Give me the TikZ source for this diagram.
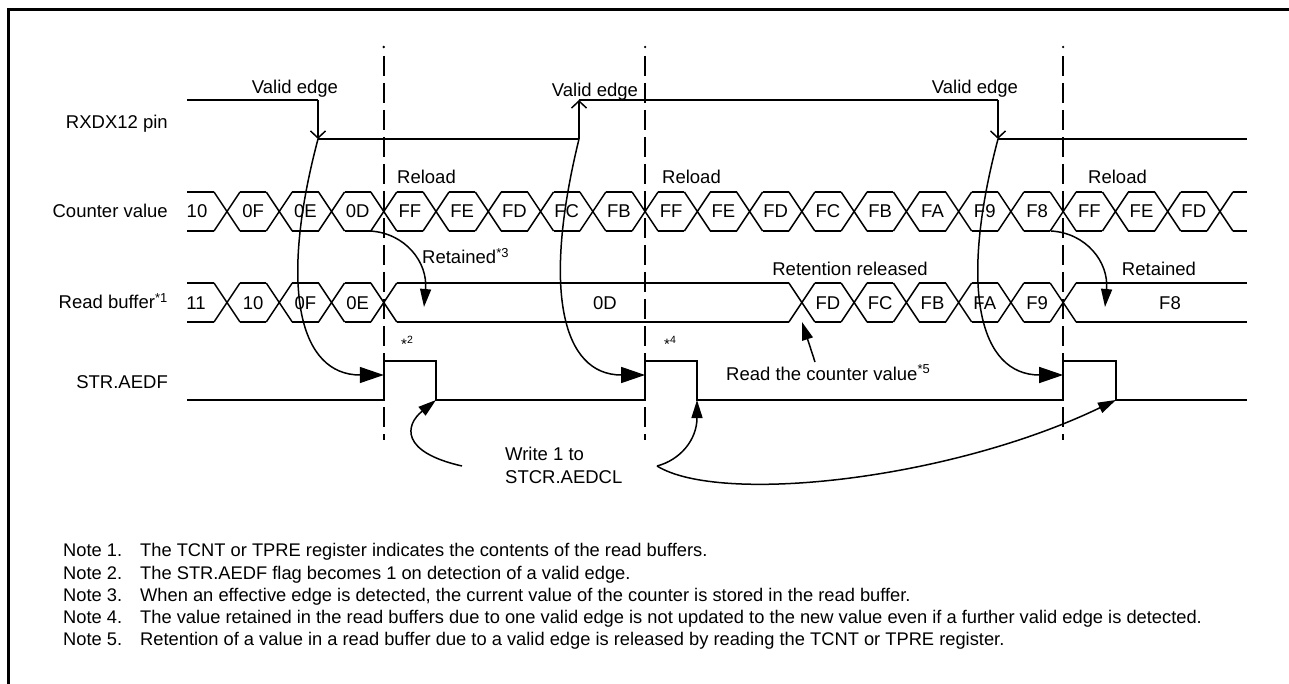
\documentclass[tikz,border=0pt]{standalone}
\usepackage{fontspec}
\setmainfont{Liberation Sans}
\usetikzlibrary{arrows.meta}
\begin{document}
\begin{tikzpicture}[x=1pt,y=-1pt,
  sig/.style={line width=1.5pt},
  lbl/.style={font=\fontsize{18.5}{22}\selectfont, inner sep=0pt},
  notetext/.style={font=\fontsize{18.3}{22}\selectfont, inner sep=0pt, anchor=base west},
  smallsup/.style={font=\fontsize{15}{17}\selectfont, inner sep=0pt, anchor=base west},
  vline/.style={line width=2.4pt, dash pattern=on 20pt off 7pt},
  barbtip/.style={-{Straight Barb[length=7pt,width=15pt]}},
  bigtip/.style={-{Triangle[length=24pt,width=16pt]}},
  midtip/.style={-{Triangle[length=18pt,width=11pt]}}
]
\useasboundingbox (0,0) rectangle (1289,684);
% frame
\draw[line width=3pt] (8.5,684) -- (8.5,9.5) -- (1289,9.5);

% dashed guide lines
\foreach \xx/\nm in {383.78/d1,645.08/d2,1063.16/d3} {
  \fill (\xx,47) circle (1.3pt);
  \draw[vline] (\xx,56) coordinate (\nm top) -- (\xx,440) coordinate (\nm bot);
}

% left labels
\node[lbl,anchor=base east] (lpin) at (168,128.3) {RXDX12 pin};
\node[lbl,anchor=base east] (lcnt) at (168,217.3) {Counter value};
\node[lbl,anchor=base east] (lbuf) at (168,308.3) {Read buffer\textsuperscript{*1}};
\node[lbl,anchor=base east] (lstr) at (168,388) {STR.AEDF};

% RXDX12 pin waveform
\coordinate (p0) at (187,100);
\coordinate (f1t) at (318,100); \coordinate (f1b) at (318,139);
\coordinate (r1b) at (579,139); \coordinate (r1t) at (579,100);
\coordinate (f2t) at (998,100); \coordinate (f2b) at (998,139);
\coordinate (pend) at (1247,139);
\draw[sig] (p0) -- (f1t);
\draw[sig,barbtip] (f1t) -- (f1b);
\draw[sig] (f1b) -- (r1b);
\draw[sig,barbtip] (r1b) -- (r1t);
\draw[sig] (r1t) -- (f2t);
\draw[sig,barbtip] (f2t) -- (f2b);
\draw[sig] (f2b) -- (pend);

\node[lbl,anchor=base] (ve1) at (295,93.3) {Valid edge};
\node[lbl,anchor=base] (ve2) at (595,96.5) {Valid edge};
\node[lbl,anchor=base] (ve3) at (975,93.3) {Valid edge};

% Counter value bus
\foreach \i in {0,...,19} {
  \pgfmathsetmacro\xa{227+52.26*\i}
  \draw[sig] (\xa-13,192) -- (\xa+13,231) (\xa-13,231) -- (\xa+13,192);
}
\foreach \i in {0,...,18} {
  \pgfmathsetmacro\xa{227+52.26*\i+13}
  \pgfmathsetmacro\xb{227+52.26*(\i+1)-13}
  \draw[sig] (\xa,192) -- (\xb,192) (\xa,231) -- (\xb,231);
}
\draw[sig] (187,192) -- (214,192) (187,231) -- (214,231);
\draw[sig] (1232.94,192) -- (1247,192) (1232.94,231) -- (1247,231);
\node[lbl,anchor=base] (cv0) at (197,218) {10};
\foreach \t [count=\k] in {0F,0E,0D,FF,FE,FD,FC,FB,FF,FE,FD,FC,FB,FA,F9,F8,FF,FE,FD} {
  \pgfmathsetmacro\xa{227+52.26*(\k-0.5)}
  \node[lbl,anchor=base] (cv\k) at (\xa,218) {\t};
}
\node[lbl,anchor=base west] (rl1) at (397,184) {Reload};
\node[lbl,anchor=base west] (rl2) at (662,184) {Reload};
\node[lbl,anchor=base west] (rl3) at (1088,184) {Reload};

% Read buffer bus
\foreach \i in {0,1,2,3,11,12,13,14,15,16} {
  \pgfmathsetmacro\xa{227+52.26*\i}
  \draw[sig] (\xa-13,283) -- (\xa+13,322) (\xa-13,322) -- (\xa+13,283);
}
\foreach \i in {0,1,2,11,12,13,14,15} {
  \pgfmathsetmacro\xa{227+52.26*\i+13}
  \pgfmathsetmacro\xb{227+52.26*(\i+1)-13}
  \draw[sig] (\xa,283) -- (\xb,283) (\xa,322) -- (\xb,322);
}
\draw[sig] (187,283) -- (214,283) (187,322) -- (214,322);
\draw[sig] (396.78,283) -- (788.86,283) (396.78,322) -- (788.86,322);
\draw[sig] (1076.16,283) -- (1247,283) (1076.16,322) -- (1247,322);
\node[lbl,anchor=base] (rb0) at (196,309) {11};
\foreach \t/\k in {10/1,0F/2,0E/3,FD/12,FC/13,FB/14,FA/15,F9/16} {
  \pgfmathsetmacro\xa{227+52.26*(\k-0.5)}
  \node[lbl,anchor=base] (rb\k) at (\xa,309) {\t};
}
\node[lbl,anchor=base] (rbod) at (605,309) {0D};
\node[lbl,anchor=base] (rbf8) at (1170,309) {F8};

\node[lbl,anchor=base west] (ret1) at (422,264) {Retained\textsuperscript{*3}};
\node[lbl,anchor=base] (rrel) at (850,276) {Retention released};
\node[lbl,anchor=base] (ret2) at (1159,276) {Retained};

% STR.AEDF waveform
\coordinate (a1) at (383.78,375); \coordinate (a2) at (645.08,375); \coordinate (a3) at (1063.16,375);
\coordinate (c1) at (436,400); \coordinate (c2) at (697,400); \coordinate (c3) at (1116,400);
\draw[sig] (187,400) -- (383.78,400) -- (383.78,361) -- (436,361) -- (c1) -- (645.08,400)
  -- (645.08,361) -- (697,361) -- (c2) -- (1063.16,400) -- (1063.16,361) -- (1116,361) -- (c3) -- (1247,400);

\node[smallsup] (s2) at (401,349) {*\textsuperscript{2}};
\node[smallsup] (s4) at (664,349) {*\textsuperscript{4}};
\node[lbl,anchor=base west] (rdc) at (726,380) {Read the counter value\textsuperscript{*5}};
\node[lbl,anchor=base west] (wr1) at (505,460) {Write 1 to};
\node[lbl,anchor=base west] (wr2) at (505,483.3) {STCR.AEDCL};

% arrows from valid edges to STR.AEDF
\draw[sig,bigtip] (f1b) .. controls (278,290) and (300,375) .. (a1);
\draw[sig,bigtip] (r1b) .. controls (542,290) and (562,375) .. (a2);
\draw[sig,bigtip] (f2b) .. controls (958,290) and (980,375) .. (a3);

% retained arrows
\coordinate (rs1) at (370,231); \coordinate (rt1) at (424,307);
\coordinate (rs2) at (1051,231); \coordinate (rt2) at (1105,307);
\draw[sig,midtip] (rs1) .. controls (405,233) and (428,262) .. (rt1);
\draw[sig,midtip] (rs2) .. controls (1086,233) and (1109,262) .. (rt2);

% read counter arrow
\coordinate (rd0) at (815,362); \coordinate (rd1) at (802,322);
\draw[sig,midtip] (rd0) -- (rd1);

% write arrows
\coordinate (w0) at (462,466); \coordinate (w1) at (657,466);
\draw[sig,midtip] (w0) .. controls (400,452) and (405,425) .. (c1);
\draw[sig,midtip] (w1) .. controls (680,460) and (697,440) .. (c2);
\draw[sig,midtip] (w1) .. controls (720,505) and (950,480) .. (c3);

% notes
\node[notetext] (n1a) at (63,556.7) {Note 1.};
\node[notetext] (n1b) at (140,556.7) {The TCNT or TPRE register indicates the contents of the read buffers.};
\node[notetext] (n2a) at (63,579) {Note 2.};
\node[notetext] (n2b) at (140,579) {The STR.AEDF flag becomes 1 on detection of a valid edge.};
\node[notetext] (n3a) at (63,601) {Note 3.};
\node[notetext] (n3b) at (140,601) {When an effective edge is detected, the current value of the counter is stored in the read buffer.};
\node[notetext] (n4a) at (63,623) {Note 4.};
\node[notetext] (n4b) at (140,623) {The value retained in the read buffers due to one valid edge is not updated to the new value even if a further valid edge is detected.};
\node[notetext] (n5a) at (63,645.5) {Note 5.};
\node[notetext] (n5b) at (140,645.5) {Retention of a value in a read buffer due to a valid edge is released by reading the TCNT or TPRE register.};
\end{tikzpicture}
\end{document}
